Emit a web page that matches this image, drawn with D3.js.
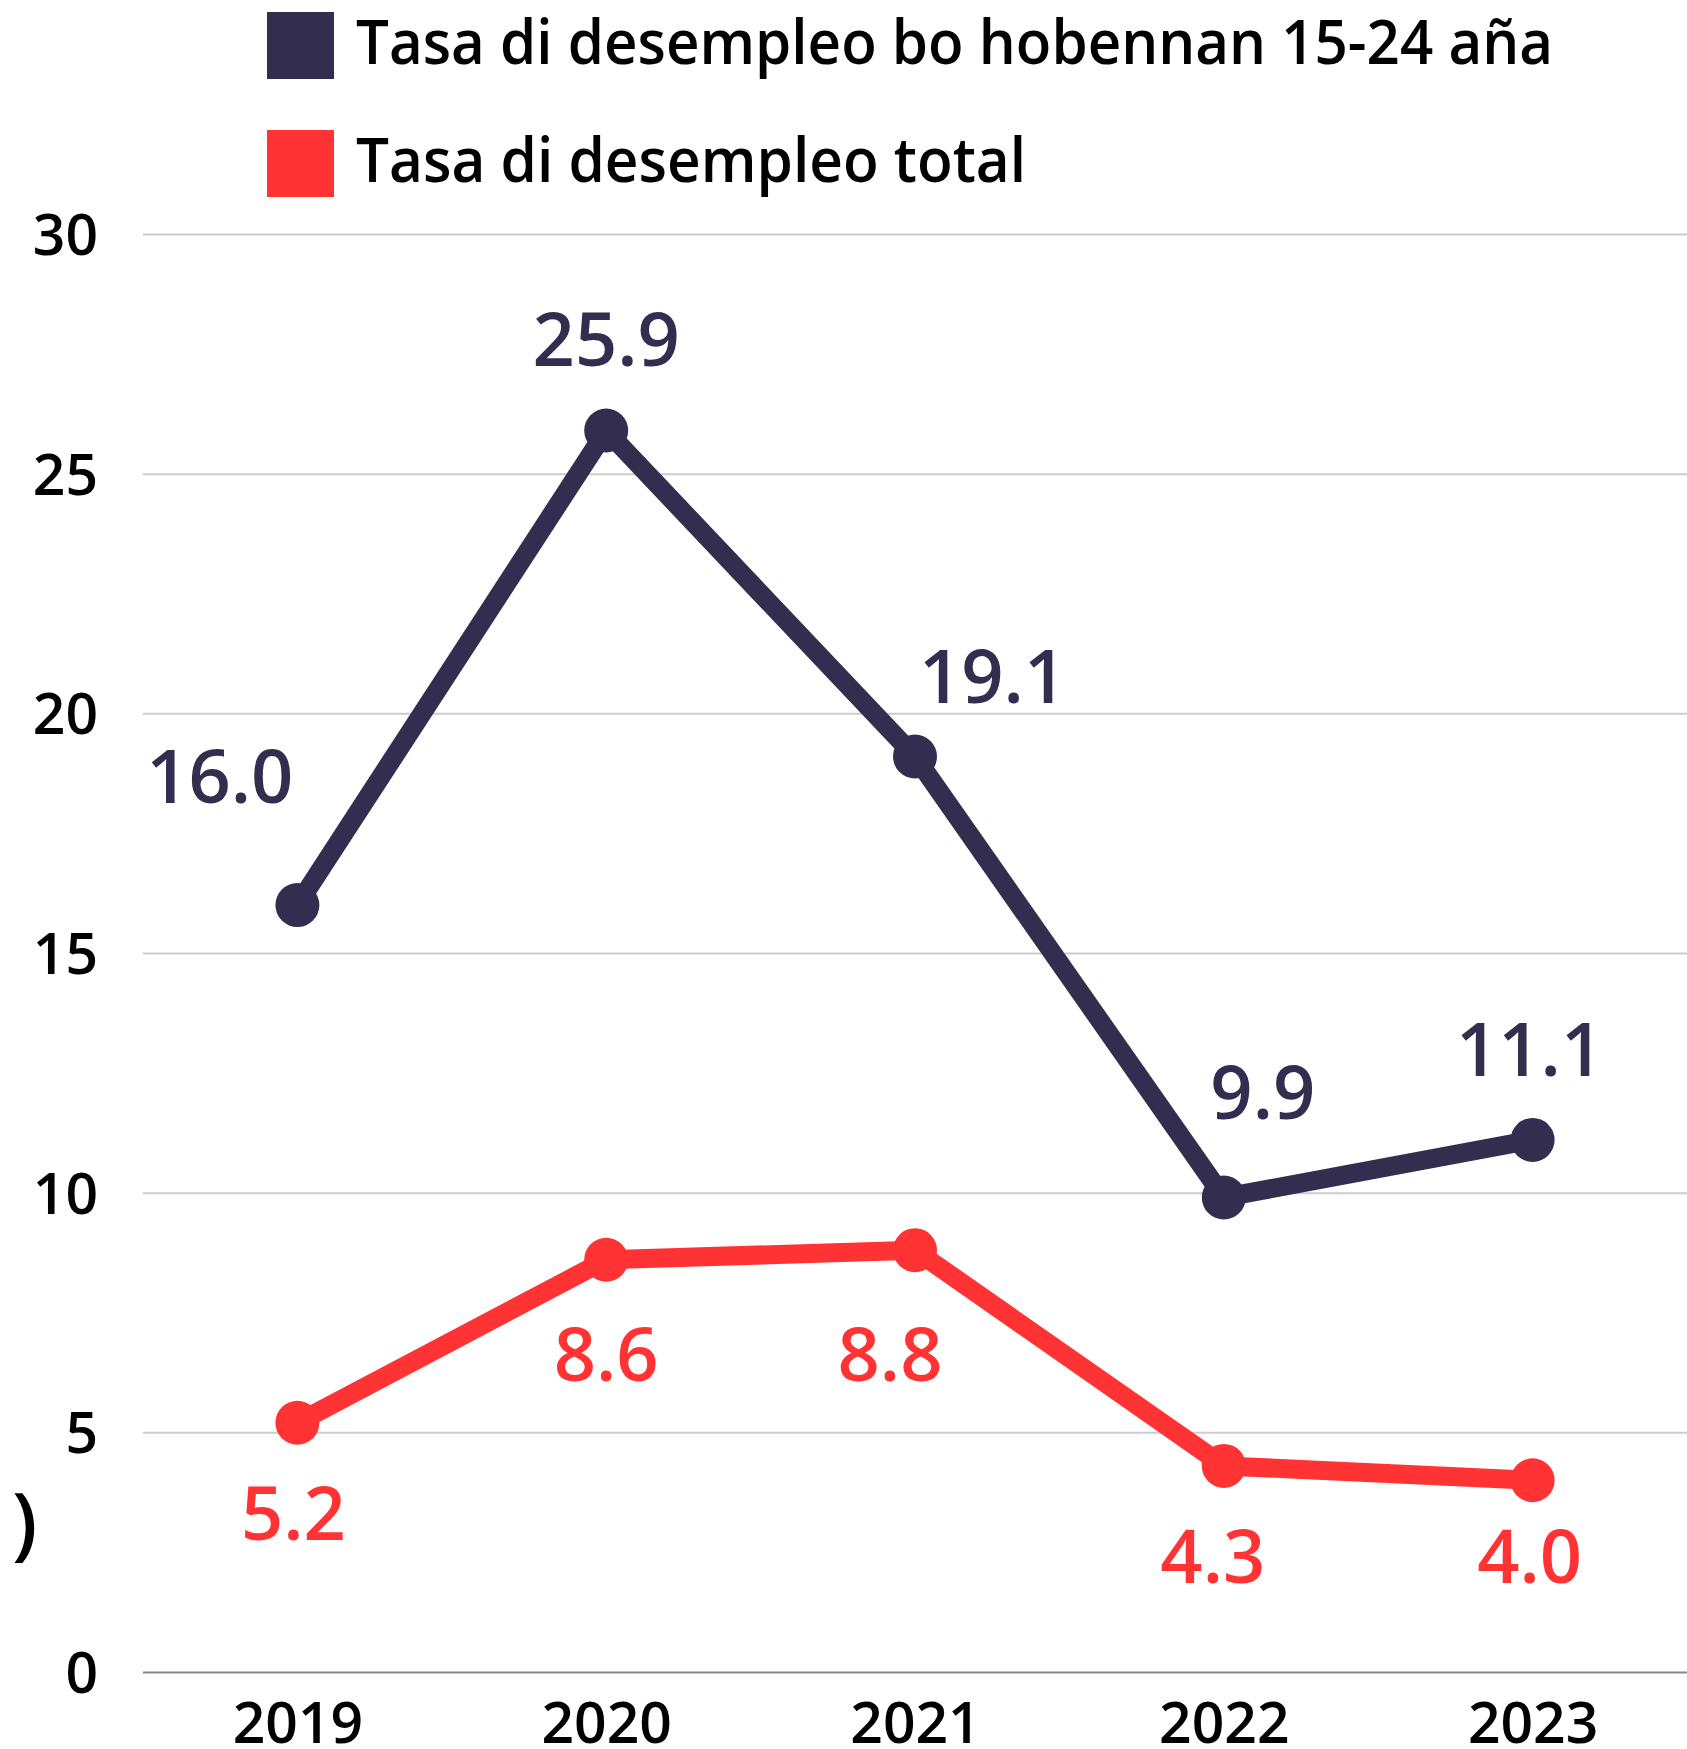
<!DOCTYPE html>
<html><head><meta charset="utf-8">
<script src="https://cdn.jsdelivr.net/npm/d3@7"></script>
<style>html,body{margin:0;padding:0;background:#fff;}svg{display:block;}</style>
</head><body>
<svg id="chart" width="1687" height="1749"></svg>
<script>
const years = ["2019", "2020", "2021", "2022", "2023"];
const youthRate = [16.0, 25.9, 19.1, 9.9, 11.1];
const totalRate = [5.2, 8.6, 8.8, 4.3, 4.0];
const yTicks = [0, 5, 10, 15, 20, 25, 30];
const seriesNames = ["Tasa di desempleo bo hobennan 15-24 aña", "Tasa di desempleo total"];
const colors = ["#332E4F", "#FF3333"];
// label offsets (presentation only): [dx, dy, anchor]
const youthLabelPos = [[-4, -102, "end"], [0, -65, "middle"], [4, -53, "start"], [39, -78, "middle"], [-3, -64, "middle"]];
const totalLabelPos = [[-4, 117, "middle"], [0, 121, "middle"], [-25, 131, "middle"], [-11, 117, "middle"], [-3, 103, "middle"]];

(function () {
const W = 1687, H = 1749;
const svg = d3.select("#chart");
svg.append("rect").attr("width", W).attr("height", H).attr("fill", "#fff");
const FONT = "'Open Sans', 'Noto Sans', sans-serif";
const mLeft = 143, mRight = W, mTop = 234, mBottom = 1672;

const x = d3.scalePoint().domain(years).range([mLeft, mRight]).padding(0.5);
const y = d3.scaleLinear().domain([0, 30]).range([mBottom, mTop]);

// grid
const yAxis = d3.axisLeft(y).tickValues(yTicks).tickSize(-(mRight - mLeft)).tickFormat(d3.format("d"));
const gy = svg.append("g").attr("transform", `translate(${mLeft},0)`).call(yAxis);
gy.select(".domain").remove();
gy.selectAll(".tick line").attr("stroke", d => d === 0 ? "#888" : "#ccc").attr("stroke-width", 2);
gy.selectAll(".tick text").attr("x", -45).attr("dy", "0.36em")
  .attr("font-family", FONT).attr("font-size", 57).attr("font-weight", 600).attr("fill", "#000");

// x axis labels
const xAxis = d3.axisBottom(x).tickSize(0);
const gx = svg.append("g").attr("transform", `translate(0,${mBottom})`).call(xAxis);
gx.select(".domain").remove();
gx.selectAll(".tick text").attr("y", 71).attr("dy", 0)
  .attr("font-family", FONT).attr("font-size", 57).attr("font-weight", 600).attr("fill", "#000");

// stray paren from clipped axis title
svg.append("text").attr("x", 12).attr("y", 1550).text(")")
  .attr("font-family", FONT).attr("font-size", 80).attr("font-weight", 600).attr("fill", "#000");

const line = d3.line().x((d, i) => x(years[i])).y(d => y(d));
const series = [youthRate, totalRate];
const labelPos = [youthLabelPos, totalLabelPos];
series.forEach((vals, si) => {
  svg.append("path").datum(vals).attr("d", line).attr("fill", "none")
    .attr("stroke", colors[si]).attr("stroke-width", 19).attr("stroke-linejoin", "round");
  svg.selectAll(null).data(vals).enter().append("circle")
    .attr("cx", (d, i) => x(years[i])).attr("cy", d => y(d)).attr("r", 22).attr("fill", colors[si]);
  svg.selectAll(null).data(vals).enter().append("text")
    .attr("x", (d, i) => x(years[i]) + labelPos[si][i][0])
    .attr("y", (d, i) => y(d) + labelPos[si][i][1])
    .attr("text-anchor", (d, i) => labelPos[si][i][2])
    .attr("font-family", FONT).attr("font-size", 74).attr("font-weight", 600)
    .attr("fill", colors[si])
    .text(d => d3.format(".1f")(d));
});

// legend
const legY = [12, 130];
const legBase = [64, 182];
seriesNames.forEach((name, i) => {
  svg.append("rect").attr("x", 267).attr("y", legY[i]).attr("width", 67).attr("height", 67)
    .attr("fill", colors[i]);
  const t = svg.append("text").attr("x", 356).attr("y", legBase[i]).text(name)
    .attr("font-family", FONT).attr("font-size", 62).attr("font-weight", 600).attr("fill", "#000");
  const target = i === 0 ? 1197 : 670;
  t.attr("textLength", target).attr("lengthAdjust", "spacingAndGlyphs");
});
})();
</script>
</body></html>
